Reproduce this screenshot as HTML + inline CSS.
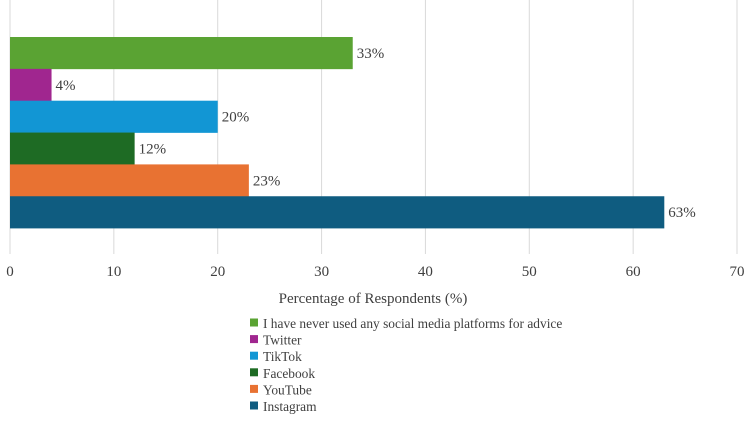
<!DOCTYPE html>
<html><head><meta charset="utf-8"><style>
body{margin:0;background:#fff;}
svg text{font-family:"Liberation Serif",serif;fill:#404040;}
</style></head><body>
<svg width="750" height="420">
<g id="grid"></g><g id="bars"></g><g id="ticks"></g>
<text x="373" y="303" text-anchor="middle" font-size="15">Percentage of Respondents (%)</text>
<g id="legend"></g>
</svg>
<script>
const categories=["I have never used any social media platforms for advice","Twitter","TikTok","Facebook","YouTube","Instagram"];
const values=[33,4,20,12,23,63];
const colors=["#5aa333","#a0268f","#1296d4","#1e6b24","#e87232","#0f5c80"];
const tickValues=[0,10,20,30,40,50,60,70];
const NS="http://www.w3.org/2000/svg";
const x=v=>10+v*(727/70);
const y0=37,bh=31.85;
function mk(t,a,p){const e=document.createElementNS(NS,t);for(const k in a)e.setAttribute(k,a[k]);document.getElementById(p).appendChild(e);return e;}
tickValues.forEach(v=>{
 const l=mk("line",{x1:x(v),x2:x(v),y1:0,y2:254,stroke:"#d9d9d9","stroke-width":1},"grid");
 
 
 const t=mk("text",{x:x(v),y:276,"text-anchor":"middle","font-size":15},"ticks");
 t.textContent=v;
 
 
});
values.forEach((v,i)=>{
 const r=mk("rect",{x:x(0),y:y0+i*bh,width:x(v)-x(0),height:bh+0.3,fill:colors[i]},"bars");
 
 
 const t=mk("text",{x:x(v)+4,y:y0+i*bh+bh/2+5,"font-size":15},"bars");
 t.textContent=v+"%";
 
 
 const ly=323+i*16.6;
 const s=mk("rect",{x:250,y:ly-4.5,width:8,height:8,fill:colors[i]},"legend");
 
 
 const lt=mk("text",{x:263,y:ly+5,"font-size":13.4},"legend");
 lt.textContent=categories[i];
 
 
});
</script>
</body></html>
